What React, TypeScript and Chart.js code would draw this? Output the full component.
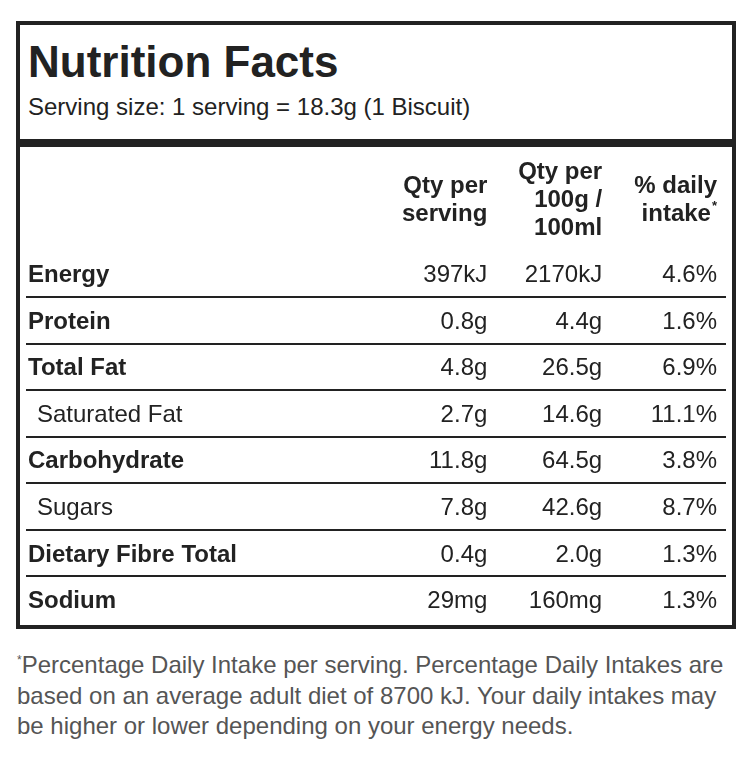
import React, { useEffect, useRef } from "react";
import { Chart, registerables } from "chart.js";

Chart.register(...registerables);

// ---------- data ----------
const title = "Nutrition Facts";
const servingSize = "Serving size: 1 serving = 18.3g (1 Biscuit)";
const nutrients = [
  "Energy",
  "Protein",
  "Total Fat",
  "Saturated Fat",
  "Carbohydrate",
  "Sugars",
  "Dietary Fibre Total",
  "Sodium",
];
const subItem = [false, false, false, true, false, true, false, false];
const qtyPerServing = ["397kJ", "0.8g", "4.8g", "2.7g", "11.8g", "7.8g", "0.4g", "29mg"];
const qtyPer100 = ["2170kJ", "4.4g", "26.5g", "14.6g", "64.5g", "42.6g", "2.0g", "160mg"];
const dailyIntake = ["4.6%", "1.6%", "6.9%", "11.1%", "3.8%", "8.7%", "1.3%", "1.3%"];
const columnHeaders = [
  ["Qty per", "serving"],
  ["Qty per", "100g /", "100ml"],
  ["% daily", "intake"],
];
const columnFootnoteMark = [false, false, true];
const footnoteLines = [
  "Percentage Daily Intake per serving. Percentage Daily Intakes are",
  "based on an average adult diet of 8700 kJ. Your daily intakes may",
  "be higher or lower depending on your energy needs.",
];

const columnValues = [qtyPerServing, qtyPer100, dailyIntake];

// ---------- styles ----------
const INK = "#222222";
const FOOT = "#555555";
const FONT = '"Liberation Sans", Arial, sans-serif';
const COLUMN_SLOTS = [4, 5, 6];
const TEXT_PX = 24;

const tablePlugin = {
  id: "nutritionTable",
  afterDatasetsDraw(chart: any) {
    const ctx: CanvasRenderingContext2D = chart.ctx;
    const xs = chart.scales.x;
    const ys = chart.scales.y;
    const area = chart.chartArea;
    ctx.save();

    // row separators
    ctx.fillStyle = INK;
    for (let i = 1; i < nutrients.length; i++) {
      const yy = Math.round((ys.getPixelForValue(i - 1) + ys.getPixelForValue(i)) / 2);
      ctx.fillRect(area.left - 2, yy - 1, area.right - area.left + 11, 2);
    }

    const drop = 8.5;

    // row labels
    ctx.textBaseline = "alphabetic";
    ctx.textAlign = "left";
    nutrients.forEach((name, r) => {
      const yy = ys.getPixelForValue(r);
      ctx.font = `${subItem[r] ? "" : "bold "}${TEXT_PX}px ${FONT}`;
      ctx.fillText(name, xs.getPixelForValue(0) + (subItem[r] ? 9 : 0), yy + drop);
    });

    // values
    ctx.textAlign = "right";
    ctx.font = `${TEXT_PX}px ${FONT}`;
    columnValues.forEach((vals, c) => {
      const meta = chart.getDatasetMeta(c);
      meta.data.forEach((pt: any, r: number) => {
        ctx.fillText(vals[r], pt.x, pt.y + drop);
      });
    });

    // headers
    const headCenter = area.top / 2;
    const lh = 28;
    columnHeaders.forEach((lines, c) => {
      const colX = xs.getPixelForValue(COLUMN_SLOTS[c]);
      const n = lines.length;
      lines.forEach((line, k) => {
        const cy = headCenter + (k - (n - 1) / 2) * lh;
        let rx = colX;
        const last = k === n - 1;
        if (last && columnFootnoteMark[c]) {
          ctx.font = `bold 13px ${FONT}`;
          ctx.textAlign = "right";
          ctx.fillText("*", colX, cy - 3);
          rx = colX - ctx.measureText("*").width - 1;
        }
        ctx.font = `bold ${TEXT_PX}px ${FONT}`;
        ctx.textAlign = "right";
        ctx.fillText(line, rx, cy + drop);
      });
    });

    ctx.restore();
  },
};

function NutritionTable() {
  const ref = useRef<HTMLCanvasElement | null>(null);
  useEffect(() => {
    if (!ref.current) return;
    const chart = new Chart(ref.current, {
      type: "scatter",
      data: {
        datasets: columnValues.map((vals, c) => ({
          label: columnHeaders[c].join(" "),
          data: nutrients.map((n) => ({ x: COLUMN_SLOTS[c], y: n as any })),
          pointRadius: 0,
          pointHoverRadius: 0,
        })),
      },
      options: {
        responsive: false,
        animation: false,
        events: [],
        layout: { padding: { left: 8, right: 15, top: 103.6, bottom: 2.2 } },
        plugins: {
          legend: { display: false },
          tooltip: { enabled: false },
          title: { display: false },
        },
        scales: {
          x: { type: "linear", min: 0, max: 6, display: false },
          y: { type: "category", labels: nutrients, offset: true, display: false },
        },
      },
      plugins: [tablePlugin],
    });
    return () => chart.destroy();
  }, []);
  return <canvas ref={ref} width={712} height={478} style={{ display: "block", width: 712, height: 478 }} />;
}

export default function App() {
  return (
    <div style={{ position: "relative", width: 728, height: 753, fontFamily: FONT, color: INK }}>
      <div
        style={{
          position: "absolute",
          left: 8,
          top: 13,
          width: 720,
          height: 608,
          border: `4px solid ${INK}`,
          boxSizing: "border-box",
        }}
      />
      <div
        style={{
          position: "absolute",
          left: 20,
          top: 32,
          fontSize: 44,
          lineHeight: "44px",
          fontWeight: "bold",
          whiteSpace: "nowrap",
        }}
      >
        {title}
      </div>
      <div
        style={{
          position: "absolute",
          left: 20,
          top: 87,
          fontSize: TEXT_PX,
          lineHeight: `${TEXT_PX}px`,
          whiteSpace: "nowrap",
        }}
      >
        {servingSize}
      </div>
      <div style={{ position: "absolute", left: 12, top: 131, width: 712, height: 8, background: INK }} />
      <div style={{ position: "absolute", left: 12, top: 139 }}>
        <NutritionTable />
      </div>
      <div
        style={{
          position: "absolute",
          left: 9,
          top: 642,
          fontSize: TEXT_PX,
          lineHeight: "30.5px",
          color: FOOT,
          whiteSpace: "nowrap",
        }}
      >
        {footnoteLines.map((line, i) => (
          <div key={i}>
            {i === 0 && (
              <span style={{ fontSize: 12, verticalAlign: "top", lineHeight: "20px" }}>*</span>
            )}
            {line}
          </div>
        ))}
      </div>
    </div>
  );
}
